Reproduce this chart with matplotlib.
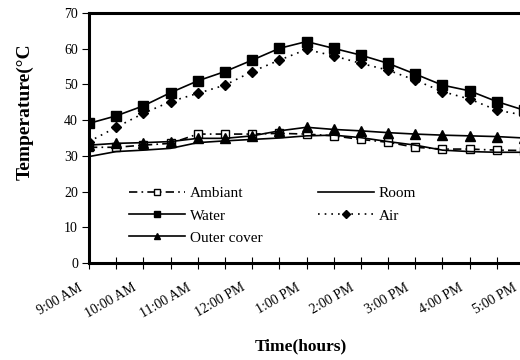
import numpy as np
import matplotlib
matplotlib.use('Agg')
import matplotlib.pyplot as plt
import matplotlib.transforms as mtransforms

# half-hour readings, 9:00 AM .. 5:00 PM
times = ['9:00 AM', '9:30 AM', '10:00 AM', '10:30 AM', '11:00 AM', '11:30 AM',
         '12:00 PM', '12:30 PM', '1:00 PM', '1:30 PM', '2:00 PM', '2:30 PM',
         '3:00 PM', '3:30 PM', '4:00 PM', '4:30 PM', '5:00 PM']
ambiant = [32.4, 32.4, 33.0, 33.5, 36.1, 36.1, 36.1, 36.3, 36.1, 35.6, 34.6, 33.8,
           32.4, 31.9, 31.9, 31.6, 31.5]
room = [29.8, 31.2, 31.6, 32.1, 33.7, 34.2, 34.6, 35.0, 35.6, 35.8, 35.1, 34.0,
        33.0, 31.6, 31.2, 31.0, 31.0]
water = [39.1, 41.2, 44.0, 47.7, 51.0, 53.6, 56.8, 60.1, 62.0, 60.1, 58.2, 55.9,
         52.9, 49.8, 48.2, 45.2, 42.8]
air = [34.0, 38.0, 41.9, 45.2, 47.5, 49.8, 53.6, 56.8, 59.8, 58.0, 55.9, 54.0,
       51.2, 48.0, 45.9, 42.8, 41.4]
outer = [33.0, 33.5, 33.7, 34.0, 34.9, 34.9, 35.6, 37.0, 38.0, 37.4, 37.0, 36.5,
         36.1, 35.8, 35.6, 35.4, 35.0]

plt.rcParams['font.family'] = ['Liberation Serif', 'DejaVu Serif']

fig = plt.figure(figsize=(5.2, 3.6), dpi=100)
# axes run past the right edge, like the cropped original
ax = fig.add_axes([89 / 520, 1 - 263 / 360, 435 / 520, 250 / 360])

x = np.arange(len(times))
ax.plot(x, ambiant, color='k', lw=1.2, ls=(0, (5, 2.5, 1, 2.5)), marker='s',
        mfc='white', mec='k', mew=1.0, ms=5.5, label='Ambiant')
ax.plot(x, water, color='k', lw=1.2, marker='s', ms=6.5, label='Water')
ax.plot(x, outer, color='k', lw=1.2, marker='^', ms=6.5, label='Outer cover')
ax.plot(x, room, color='k', lw=1.2, label='Room')
ax.plot(x, air, color='k', lw=1.2, ls=(0, (1, 3)), marker='D', ms=5, label='Air')

ax.set_xlim(0, 16)
ax.set_ylim(0, 70)
ax.set_yticks(np.arange(0, 71, 10))
ax.set_xticks(x)
ax.set_xticklabels([t if i % 2 == 0 else '' for i, t in enumerate(times)],
                   rotation=30, ha='right', va='top', rotation_mode='anchor',
                   fontsize=10)
ax.tick_params(axis='y', direction='out', length=5, width=0.8, labelsize=10, pad=3)
ax.tick_params(axis='x', direction='inout', length=8, width=0.8, pad=9)

# nudge the slanted labels left of their ticks
shift = mtransforms.ScaledTranslation(-11 / 100, 0, fig.dpi_scale_trans)
for lab in ax.get_xticklabels():
    lab.set_transform(lab.get_transform() + shift)

for side in ['left', 'bottom', 'top']:
    ax.spines[side].set_linewidth(2.2)
ax.spines['right'].set_visible(False)

fig.text(301 / 520, 1 - 346 / 360, 'Time(hours)', fontsize=12.5,
         fontweight='bold', ha='center', va='center')
fig.text(25 / 520, 1 - 112 / 360, 'Temperature(°C', rotation=90, fontsize=14,
         fontweight='bold', ha='center', va='center')

ax.legend(ncol=2, frameon=False, fontsize=11, handlelength=3.7, handletextpad=0.3,
          columnspacing=3.6, labelspacing=0.55, markerscale=0.75,
          loc='upper left', bbox_to_anchor=(0.06, 0.36))

fig.savefig('out.png', dpi=100)
